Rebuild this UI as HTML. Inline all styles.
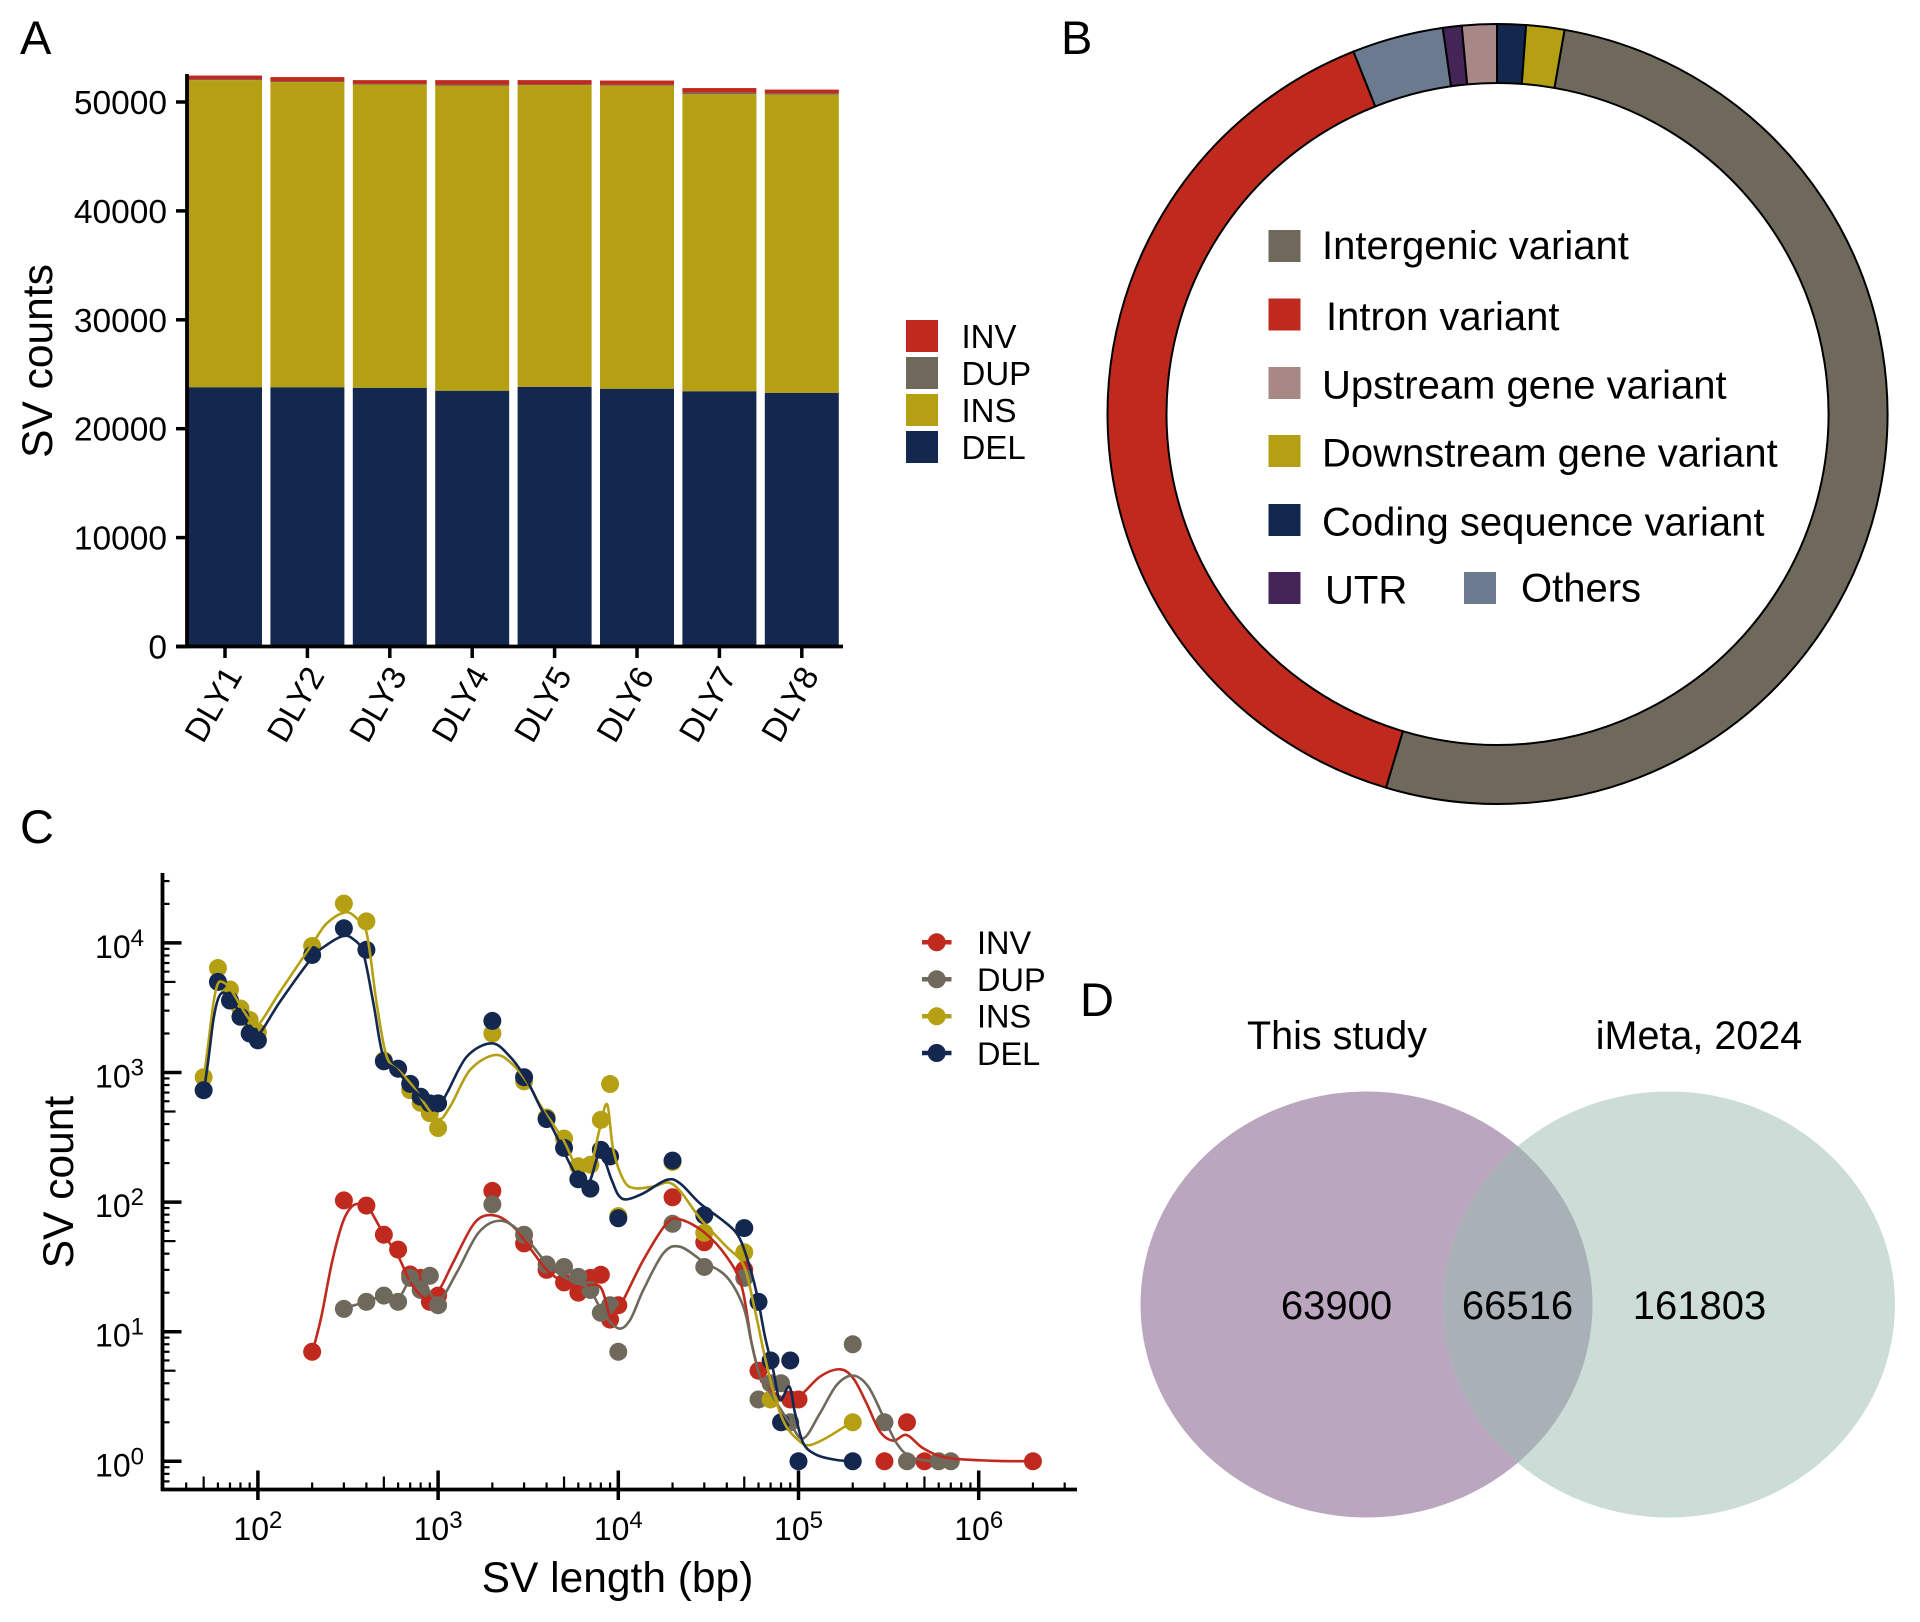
<!DOCTYPE html>
<html lang="en">
<head>
<meta charset="utf-8">
<title>Structural variant summary</title>
<style>
html,body{margin:0;padding:0;background:#fff}
svg{display:block}
text{font-family:"Liberation Sans",Arial,sans-serif;fill:#000}
</style>
</head>
<body>
<svg id="fig" xmlns="http://www.w3.org/2000/svg" width="1920" height="1622" viewBox="0 0 1920 1622">
  <rect width="1920" height="1622" fill="#fff"/>
  <text x="20" y="54" font-size="47">A</text>
  <text x="1061" y="54" font-size="47">B</text>
  <text x="20" y="843" font-size="47">C</text>
  <text x="1080" y="1016" font-size="47">D</text>

  <g id="panelA"></g>
  <text transform="translate(52 361) rotate(-90)" text-anchor="middle" font-size="42.5">SV counts</text>
  <g>
    <rect x="906" y="320" width="32" height="32" fill="#c02a1e"/>
    <rect x="906" y="357" width="32" height="32" fill="#6f695c"/>
    <rect x="906" y="394" width="32" height="32" fill="#b5a013"/>
    <rect x="906" y="431" width="32" height="32" fill="#13274f"/>
    <text x="961.5" y="348" font-size="33">INV</text>
    <text x="961.5" y="385" font-size="33">DUP</text>
    <text x="961.5" y="422" font-size="33">INS</text>
    <text x="961.5" y="459" font-size="33">DEL</text>
  </g>

  <g id="panelB"></g>
  <g>
    <rect x="1268.5" y="230" width="32" height="32" fill="#6f695c"/>
    <rect x="1268.5" y="298.5" width="32" height="32" fill="#c02a1e"/>
    <rect x="1268.5" y="367" width="32" height="32" fill="#a88886"/>
    <rect x="1268.5" y="435" width="32" height="32" fill="#b5a013"/>
    <rect x="1268.5" y="504" width="32" height="32" fill="#13274f"/>
    <rect x="1268.5" y="572" width="32" height="32" fill="#452458"/>
    <rect x="1464" y="572" width="32" height="32" fill="#6c7a8f"/>
    <text x="1322" y="259" font-size="40">Intergenic variant</text>
    <text x="1326" y="330" font-size="40">Intron variant</text>
    <text x="1322" y="398.5" font-size="40">Upstream gene variant</text>
    <text x="1322" y="466.5" font-size="40">Downstream gene variant</text>
    <text x="1322" y="535.5" font-size="40">Coding sequence variant</text>
    <text x="1325" y="603.5" font-size="40">UTR</text>
    <text x="1521" y="601.5" font-size="40">Others</text>
  </g>

  <g id="panelC"></g>
  <text transform="translate(73 1182) rotate(-90)" text-anchor="middle" font-size="42.5">SV count</text>
  <text x="617.5" y="1592" text-anchor="middle" font-size="42.5">SV length (bp)</text>
  <g>
    <g><line x1="922" x2="951.5" y1="942.3" y2="942.3" stroke="#c02a1e" stroke-width="4.5"/><circle cx="936.7" cy="942.3" r="9" fill="#c02a1e"/><text x="977" y="954" font-size="32.5">INV</text></g>
    <g><line x1="922" x2="951.5" y1="979.3" y2="979.3" stroke="#6f695c" stroke-width="4.5"/><circle cx="936.7" cy="979.3" r="9" fill="#6f695c"/><text x="977" y="990.8" font-size="32.5">DUP</text></g>
    <g><line x1="922" x2="951.5" y1="1016.3" y2="1016.3" stroke="#b5a013" stroke-width="4.5"/><circle cx="936.7" cy="1016.3" r="9" fill="#b5a013"/><text x="977" y="1027.6" font-size="32.5">INS</text></g>
    <g><line x1="922" x2="951.5" y1="1053" y2="1053" stroke="#13274f" stroke-width="4.5"/><circle cx="936.7" cy="1053" r="9" fill="#13274f"/><text x="977" y="1065" font-size="32.5">DEL</text></g>
  </g>

  <g>
    <defs><clipPath id="leftClip"><ellipse cx="1366.5" cy="1304.5" rx="226" ry="213"/></clipPath></defs>
    <ellipse cx="1366.5" cy="1304.5" rx="226" ry="213" fill="#bba6c0"/>
    <ellipse cx="1669" cy="1304.5" rx="226" ry="213" fill="#cbddd6"/>
    <ellipse cx="1669" cy="1304.5" rx="226" ry="213" fill="#a9b1b7" clip-path="url(#leftClip)"/>
    <text x="1343" y="1054" text-anchor="middle" font-size="39.5" transform="translate(-6 -5)">This study</text>
    <text x="1707" y="1054" text-anchor="middle" font-size="39.5" transform="translate(-8 -5)">iMeta, 2024</text>
    <text x="1343" y="1326" text-anchor="middle" font-size="40" transform="translate(-6.5 -7)">63900</text>
    <text x="1525" y="1326" text-anchor="middle" font-size="40" transform="translate(-7.5 -7)">66516</text>
    <text x="1708" y="1326" text-anchor="middle" font-size="40" transform="translate(-8.5 -7)">161803</text>
  </g>
</svg>
<script>
// ---------- Panel A data ----------
const samples = ['DLY1','DLY2','DLY3','DLY4','DLY5','DLY6','DLY7','DLY8'];
const delCounts = [23810,23810,23760,23490,23850,23670,23440,23300];
const insCounts = [28200,28020,27840,27990,27700,27840,27280,27380];
const dupCounts = [60,60,60,90,60,60,130,110];
const invCounts = [360,400,350,440,400,400,430,350];
const barTicks = [0,10000,20000,30000,40000,50000];

// ---------- Panel B data ----------
const pieNames = ['intergenic','intron','others','utr','upstream','coding','downstream'];
const pieShares = [51.86,39.36,3.78,0.78,1.44,1.19,1.58];
const pieColors = ['#6f695c','#c02a1e','#6c7a8f','#452458','#a88886','#13274f','#b5a013'];

// ---------- Panel C data: points (length bp, count) ----------
const invLen = [200,300,400,500,600,700,800,900,1000,2000,3000,4000,5000,6000,7000,8000,9000,10000,20000,30000,50000,60000,90000,100000,300000,400000,500000,2000000];
const invVal = [7,103,94,56,43,27.6,26,17,19,122,48,30,24,20,26,27.5,12.4,16,109,49,30,5,3,3,1,2,1,1];
const dupLen = [300,400,500,600,700,800,900,1000,2000,3000,4000,5000,6000,7000,8000,9000,10000,20000,30000,50000,60000,70000,80000,90000,200000,300000,400000,600000,700000];
const dupVal = [15,17,19,17,26,21,27,16,96,56,33,31.6,26.5,21,14,16,7,68,31.6,26,3,4,4,2,8,2,1,1,1];
const insLen = [50,60,70,80,90,100,200,300,400,500,600,700,800,900,1000,2000,3000,4000,5000,6000,7000,8000,9000,10000,20000,30000,50000,70000,200000];
const insVal = [920,6400,4370,3120,2540,2040,9460,20100,14650,1240,1070,730,584,485,373,2000,855,450,309,189,194,431,815,78,204,58,41,3,2];
const delLen = [50,60,70,80,90,100,200,300,400,500,600,700,800,900,1000,2000,3000,4000,5000,6000,7000,8000,9000,10000,20000,30000,50000,60000,70000,80000,90000,100000,200000];
const delVal = [730,5000,3590,2690,2000,1770,8070,12970,8850,1220,1070,817,650,578,578,2500,920,437,262,150,127,253,225,75,209,79,63,17,6,2,6,1,1];

// Smoothed trend lines, as log10(length) and log10(count) pairs
const invFitLogX = [2.303,2.352,2.412,2.471,2.521,2.570,2.610,2.699,2.779,2.848,2.927,3.003,3.086,3.205,3.314,3.422,3.522,3.603,3.695,3.787,3.898,3.954,3.982,4.028,4.139,4.268,4.342,4.472,4.601,4.685,4.740,4.786,4.805,4.897,4.999,5.119,5.230,5.304,5.378,5.452,5.526,5.600,5.693,5.822,6.063,6.303];
const invFitLogY = [0.845,1.116,1.541,1.844,1.966,1.986,1.966,1.751,1.581,1.379,1.258,1.318,1.541,1.844,1.897,1.804,1.622,1.476,1.386,1.348,1.348,1.116,1.155,1.245,1.553,1.836,1.867,1.772,1.579,1.348,0.910,0.653,0.602,0.499,0.499,0.653,0.710,0.640,0.447,0.229,0.159,0.203,0.100,0.028,0.005,0];
const dupFitLogX = [2.475,2.600,2.699,2.779,2.848,2.927,3.003,3.105,3.224,3.343,3.462,3.603,3.695,3.778,3.843,3.917,4.000,4.065,4.139,4.250,4.342,4.472,4.601,4.694,4.740,4.786,4.833,4.953,5.027,5.119,5.212,5.304,5.387,5.471,5.545,5.619,5.730,5.850];
const dupFitLogY = [1.181,1.230,1.278,1.258,1.399,1.359,1.238,1.460,1.763,1.856,1.763,1.527,1.425,1.373,1.322,1.142,1.026,1.090,1.322,1.605,1.656,1.540,1.424,1.193,0.910,0.653,0.550,0.293,0.177,0.370,0.589,0.661,0.576,0.344,0.139,0.036,0.002,0];
const insFitLogX = [1.701,1.725,1.753,1.775,1.799,1.845,1.901,1.956,2.002,2.123,2.298,2.382,2.483,2.548,2.604,2.659,2.715,2.789,2.862,2.992,3.066,3.177,3.316,3.417,3.510,3.566,3.695,3.769,3.843,3.895,3.938,3.972,4.031,4.091,4.199,4.279,4.348,4.457,4.596,4.695,4.755,4.814,4.873,4.933,5.012,5.062,5.151,5.300];
const insFitLogY = [2.968,3.225,3.534,3.675,3.701,3.649,3.521,3.405,3.367,3.624,3.984,4.151,4.236,4.190,4.074,3.534,3.122,3.006,2.891,2.646,2.736,3.019,3.135,3.058,2.891,2.749,2.479,2.273,2.273,2.556,2.754,2.404,2.166,2.107,2.122,2.151,2.077,1.869,1.662,1.513,1.187,0.801,0.475,0.267,0.148,0.125,0.178,0.306];
const delFitLogX = [1.701,1.725,1.753,1.780,1.808,1.845,1.901,1.956,2.002,2.123,2.298,2.382,2.474,2.530,2.585,2.641,2.696,2.770,2.862,2.992,3.048,3.159,3.297,3.399,3.492,3.566,3.640,3.760,3.834,3.898,3.963,4.000,4.046,4.139,4.268,4.342,4.453,4.564,4.657,4.712,4.768,4.814,4.860,4.897,4.949,4.981,5.027,5.101,5.212,5.301];
const delFitLogY = [2.865,3.097,3.405,3.572,3.616,3.572,3.457,3.328,3.289,3.547,3.881,3.984,4.053,4.028,3.920,3.534,3.122,3.019,2.865,2.736,2.839,3.122,3.225,3.122,2.942,2.736,2.556,2.222,2.145,2.376,2.171,2.055,2.021,2.068,2.171,2.145,1.990,1.875,1.759,1.579,1.296,0.962,0.700,0.473,0.576,0.370,0.139,0.049,0.010,0];

const xExponents = [2,3,4,5,6];
const yExponents = [0,1,2,3,4];

const NS = 'http://www.w3.org/2000/svg';
function mk(tag, attrs, parent, txt) {
  const el = document.createElementNS(NS, tag);
  for (const k in attrs) el.setAttribute(k, attrs[k]);
  if (txt !== undefined) el.textContent = txt;
  parent.appendChild(el);
  return el;
}

// ---------- Panel A ----------
(function () {
  const g = document.getElementById('panelA');
  const yA = v => 646.5 - v * 0.01089;
  const bandStart = 188, bandStep = 82.4, barW = 74;
  const layers = [
    ['del', delCounts, '#13274f'],
    ['ins', insCounts, '#b5a013'],
    ['dup', dupCounts, '#6f695c'],
    ['inv', invCounts, '#c02a1e']
  ];
  samples.forEach((s, i) => {
    const x = bandStart + i * bandStep;
    let base = 0;
    layers.forEach(l => {
      const v = l[1][i];
      const r = mk('rect', { x: x, y: yA(base + v), width: barW, height: yA(base) - yA(base + v), fill: l[2] }, g);
      
      
      base += v;
    });
    const cx = x + barW / 2;
    const t = mk('line', { x1: cx, x2: cx, y1: 646.5, y2: 658, stroke: '#000', 'stroke-width': 3.5 }, g);
    
    
    const lab = mk('text', { 'text-anchor': 'middle', 'font-size': 33, transform: 'translate(' + (cx - 2) + ' 710) rotate(-60)' }, g, s);
    
    
  });
  barTicks.forEach(v => {
    const t = mk('line', { x1: 176, x2: 187, y1: yA(v), y2: yA(v), stroke: '#000', 'stroke-width': 3.5 }, g);
    
    
    const lab = mk('text', { x: 167, y: yA(v) + 12, 'text-anchor': 'end', 'font-size': 33.5 }, g, String(v));
    
    
  });
  const ax = mk('line', { x1: 187, x2: 187, y1: 74, y2: 648, stroke: '#000', 'stroke-width': 3.8 }, g);
  
  
  const bx = mk('line', { x1: 176, x2: 843, y1: 646.5, y2: 646.5, stroke: '#000', 'stroke-width': 3.8 }, g);
  
  
})();

// ---------- Panel B ----------
(function () {
  const g = document.getElementById('panelB');
  const cx = 1497.5, cy = 414, R = 390, r0 = 331, startDeg = 9.9;
  const total = pieShares.reduce((a, b) => a + b, 0);
  const pt = (rad, deg) => {
    const a = deg * Math.PI / 180;
    return (cx + rad * Math.sin(a)).toFixed(2) + ' ' + (cy - rad * Math.cos(a)).toFixed(2);
  };
  let ang = startDeg;
  pieShares.forEach((share, i) => {
    const sweep = share / total * 360;
    const large = sweep > 180 ? 1 : 0;
    const d = 'M' + pt(R, ang) + ' A' + R + ' ' + R + ' 0 ' + large + ' 1 ' + pt(R, ang + sweep) +
      ' L' + pt(r0, ang + sweep) + ' A' + r0 + ' ' + r0 + ' 0 ' + large + ' 0 ' + pt(r0, ang) + ' Z';
    const p = mk('path', { d: d, fill: pieColors[i], stroke: '#000', 'stroke-width': 2 }, g);
    
    
    ang += sweep;
  });
})();

// ---------- Panel C ----------
(function () {
  const g = document.getElementById('panelC');
  const xL = lg => 257.9 + 180.2 * (lg - 2);
  const yL = lg => 1461.3 - 129.6 * lg;
  const x = v => xL(Math.log10(v));
  const y = v => yL(Math.log10(v));

  // log ticks
  const tickLen = m => m === 1 ? 19 : (m === 5 ? 13 : 7);
  for (let e = 1; e <= 6; e++) {
    for (let m = 1; m <= 9; m++) {
      const v = m * Math.pow(10, e);
      if (v < 40 || v > 3000000) continue;
      const t = mk('line', { x1: x(v), x2: x(v), y1: 1489.5 - tickLen(m), y2: m === 1 ? 1500 : 1489.5, stroke: '#000', 'stroke-width': m === 1 ? 3.5 : 2.2 }, g);
      
      
    }
  }
  for (let e = -1; e <= 4; e++) {
    for (let m = 1; m <= 9; m++) {
      const v = m * Math.pow(10, e);
      if (v < 0.65 || v > 30000) continue;
      const t = mk('line', { x1: 162.5, x2: 162.5 + tickLen(m), y1: y(v), y2: y(v), stroke: '#000', 'stroke-width': m === 1 ? 3.5 : 2.2 }, g);
      
      
    }
  }
  xExponents.forEach(e => {
    const lab = mk('text', { x: xL(e), y: 1540, 'text-anchor': 'middle', 'font-size': 32 }, g);
    
    
    mk('tspan', {}, lab, '10');
    mk('tspan', { dy: -12, 'font-size': 24 }, lab, String(e));
  });
  yExponents.forEach(e => {
    const lab = mk('text', { x: 144, y: yL(e) + 15, 'text-anchor': 'end', 'font-size': 32 }, g);
    
    
    mk('tspan', {}, lab, '10');
    mk('tspan', { dy: -12, 'font-size': 24 }, lab, String(e));
  });
  const ay = mk('line', { x1: 162.5, x2: 162.5, y1: 873, y2: 1491, stroke: '#000', 'stroke-width': 3.8 }, g);
  
  
  const ax = mk('line', { x1: 161, x2: 1077, y1: 1489.5, y2: 1489.5, stroke: '#000', 'stroke-width': 3.8 }, g);
  
  

  const series = [
    ['inv', invLen, invVal, invFitLogX, invFitLogY, '#c02a1e'],
    ['dup', dupLen, dupVal, dupFitLogX, dupFitLogY, '#6f695c'],
    ['ins', insLen, insVal, insFitLogX, insFitLogY, '#b5a013'],
    ['del', delLen, delVal, delFitLogX, delFitLogY, '#13274f']
  ];
  series.forEach(s => {
    s[1].forEach((len, i) => {
      const c = mk('circle', { cx: x(len), cy: y(s[2][i]), r: 9, fill: s[5] }, g);
      
      
    });
  });
  // Catmull-Rom spline through the trend knots
  function spline(px, py) {
    let d = 'M' + px[0].toFixed(2) + ' ' + py[0].toFixed(2);
    for (let i = 0; i < px.length - 1; i++) {
      const i0 = Math.max(i - 1, 0), i3 = Math.min(i + 2, px.length - 1);
      const c1x = px[i] + (px[i + 1] - px[i0]) / 6, c1y = py[i] + (py[i + 1] - py[i0]) / 6;
      const c2x = px[i + 1] - (px[i3] - px[i]) / 6, c2y = py[i + 1] - (py[i3] - py[i]) / 6;
      d += ' C' + c1x.toFixed(2) + ' ' + c1y.toFixed(2) + ' ' + c2x.toFixed(2) + ' ' + c2y.toFixed(2) + ' ' + px[i + 1].toFixed(2) + ' ' + py[i + 1].toFixed(2);
    }
    return d;
  }
  series.forEach(s => {
    const d = spline(s[3].map(xL), s[4].map(yL));
    const p = mk('path', { d: d, fill: 'none', stroke: s[5], 'stroke-width': 2.6, 'stroke-linejoin': 'round' }, g);
    
    
  });
})();
</script>
</body>
</html>
